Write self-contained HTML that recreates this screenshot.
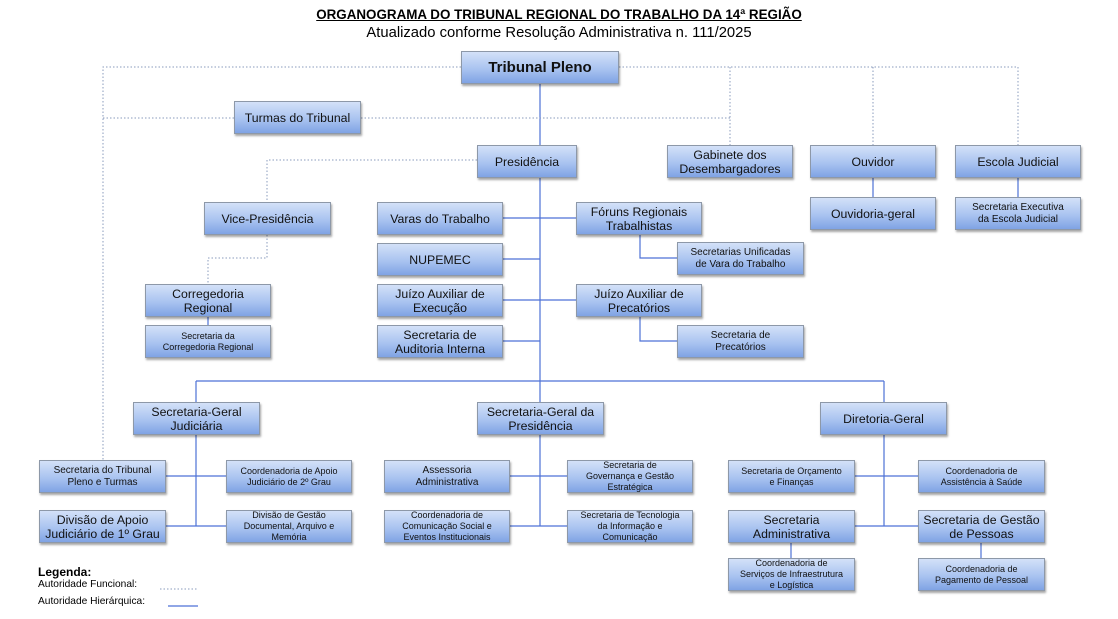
<!DOCTYPE html>
<html><head><meta charset="utf-8"><style>
body{margin:0;width:1118px;height:619px;background:#fff;position:relative;overflow:hidden;font-family:"Liberation Sans",Arial,sans-serif;}
.b{position:absolute;box-sizing:border-box;display:flex;align-items:center;justify-content:center;text-align:center;
background:linear-gradient(#d3e1f8,#a9c3f0 55%,#7fa3e4);border:1px solid #8d98a8;box-shadow:1px 2px 2px rgba(0,0,0,.35);
font-size:12.3px;line-height:14px;color:#111;}
.s{font-size:9px;line-height:11px;}
.m{font-size:10px;line-height:12px;}
svg{position:absolute;left:0;top:0;}
.t{position:absolute;left:0;width:1118px;text-align:center;}
</style></head><body>
<div class="t" style="top:7px;font-size:13.4px;font-weight:bold;text-decoration:underline;">ORGANOGRAMA DO TRIBUNAL REGIONAL DO TRABALHO DA 14ª REGIÃO</div>
<div class="t" style="top:25px;font-size:14.8px;">Atualizado conforme Resolução Administrativa n. 111/2025</div>
<svg width="1118" height="619">
<g stroke="#4d72d6" stroke-width="1.2" fill="none">
<path d="M540 84V402M196 381H884M196 381V402M884 381V402"/>
<path d="M503 218H576M503 259H540M503 300H576M503 341H540"/>
<path d="M640 235V258H677M640 317V341H677"/>
<path d="M873 178V197M1018 178V197M208 317V325"/>
<path d="M196 435V526M166 476H226M166 526H226"/>
<path d="M540 435V526M510 476H567M510 526H567"/>
<path d="M884 435V526M855 476H918M855 526H918"/>
<path d="M791 543V558M981 543V558"/>
<path d="M168 606H198"/>
</g>
<g stroke="#8a9bbd" stroke-width="1" stroke-dasharray="1.5,2" fill="none">
<path d="M461 67H103V460M103 118H234M361 118H730M619 67H1018M730 67V145M873 67V145M1018 67V145"/>
<path d="M477 160H267V202M267 235V258H208V284"/>
<path d="M160 589H198"/>
</g>
</svg>
<div class="b" style="left:461px;top:51px;width:158px;height:33px;font-size:15px;font-weight:bold;">Tribunal Pleno</div>
<div class="b" style="left:234px;top:101px;width:127px;height:33px;">Turmas do Tribunal</div>
<div class="b" style="left:477px;top:145px;width:100px;height:33px;">Presidência</div>
<div class="b" style="left:667px;top:145px;width:126px;height:33px;">Gabinete dos<br>Desembargadores</div>
<div class="b" style="left:810px;top:145px;width:126px;height:33px;">Ouvidor</div>
<div class="b" style="left:955px;top:145px;width:126px;height:33px;">Escola Judicial</div>
<div class="b" style="left:810px;top:197px;width:126px;height:33px;">Ouvidoria-geral</div>
<div class="b m" style="left:955px;top:197px;width:126px;height:33px;">Secretaria Executiva<br>da Escola Judicial</div>
<div class="b" style="left:204px;top:202px;width:127px;height:33px;">Vice-Presidência</div>
<div class="b" style="left:377px;top:202px;width:126px;height:33px;">Varas do Trabalho</div>
<div class="b" style="left:576px;top:202px;width:126px;height:33px;">Fóruns Regionais<br>Trabalhistas</div>
<div class="b m" style="left:677px;top:242px;width:127px;height:33px;">Secretarias Unificadas<br>de Vara do Trabalho</div>
<div class="b" style="left:377px;top:243px;width:126px;height:33px;">NUPEMEC</div>
<div class="b" style="left:145px;top:284px;width:126px;height:33px;">Corregedoria<br>Regional</div>
<div class="b" style="left:377px;top:284px;width:126px;height:33px;">Juízo Auxiliar de<br>Execução</div>
<div class="b" style="left:576px;top:284px;width:126px;height:33px;">Juízo Auxiliar de<br>Precatórios</div>
<div class="b s" style="left:145px;top:325px;width:126px;height:33px;">Secretaria da<br>Corregedoria Regional</div>
<div class="b" style="left:377px;top:325px;width:126px;height:33px;">Secretaria de<br>Auditoria Interna</div>
<div class="b m" style="left:677px;top:325px;width:127px;height:33px;">Secretaria de<br>Precatórios</div>
<div class="b" style="left:133px;top:402px;width:127px;height:33px;">Secretaria-Geral<br>Judiciária</div>
<div class="b" style="left:477px;top:402px;width:127px;height:33px;">Secretaria-Geral da<br>Presidência</div>
<div class="b" style="left:820px;top:402px;width:127px;height:33px;">Diretoria-Geral</div>
<div class="b m" style="left:39px;top:460px;width:127px;height:33px;">Secretaria do Tribunal<br>Pleno e Turmas</div>
<div class="b s" style="left:226px;top:460px;width:126px;height:33px;">Coordenadoria de Apoio<br>Judiciário de 2º Grau</div>
<div class="b m" style="left:384px;top:460px;width:126px;height:33px;">Assessoria<br>Administrativa</div>
<div class="b s" style="left:567px;top:460px;width:126px;height:33px;">Secretaria de<br>Governança e Gestão<br>Estratégica</div>
<div class="b s" style="left:728px;top:460px;width:127px;height:33px;">Secretaria de Orçamento<br>e Finanças</div>
<div class="b s" style="left:918px;top:460px;width:127px;height:33px;">Coordenadoria de<br>Assistência à Saúde</div>
<div class="b" style="left:39px;top:510px;width:127px;height:33px;">Divisão de Apoio<br>Judiciário de 1º Grau</div>
<div class="b s" style="left:226px;top:510px;width:126px;height:33px;">Divisão de Gestão<br>Documental, Arquivo e<br>Memória</div>
<div class="b s" style="left:384px;top:510px;width:126px;height:33px;">Coordenadoria de<br>Comunicação Social e<br>Eventos Institucionais</div>
<div class="b s" style="left:567px;top:510px;width:126px;height:33px;">Secretaria de Tecnologia<br>da Informação e<br>Comunicação</div>
<div class="b" style="left:728px;top:510px;width:127px;height:33px;">Secretaria<br>Administrativa</div>
<div class="b" style="left:918px;top:510px;width:127px;height:33px;">Secretaria de Gestão<br>de Pessoas</div>
<div class="b s" style="left:728px;top:558px;width:127px;height:33px;">Coordenadoria de<br>Serviços de Infraestrutura<br>e Logística</div>
<div class="b s" style="left:918px;top:558px;width:127px;height:33px;">Coordenadoria de<br>Pagamento de Pessoal</div>
<div style="position:absolute;left:38px;top:565px;font-size:12px;font-weight:bold;">Legenda:</div>
<div style="position:absolute;left:38px;top:579px;font-size:10.2px;">Autoridade Funcional:</div>
<div style="position:absolute;left:38px;top:596px;font-size:10.2px;">Autoridade Hierárquica:</div>
</body></html>
